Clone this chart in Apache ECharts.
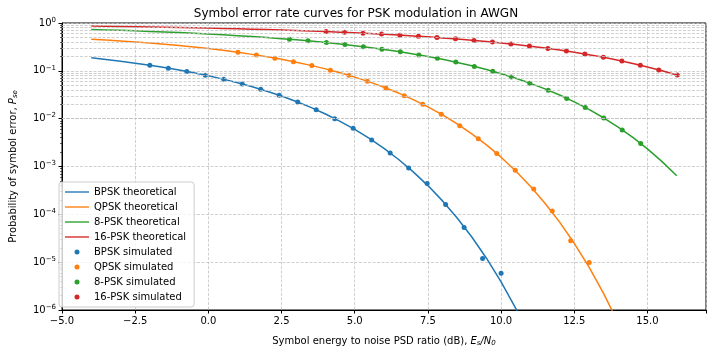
<!DOCTYPE html>
<html>
<head>
<meta charset="utf-8">
<script src="https://cdn.jsdelivr.net/npm/echarts@6.0.0/dist/echarts.min.js"></script>
<style>
  html, body { margin: 0; padding: 0; background: #fff; }
  #chart { width: 712px; height: 352px; }
</style>
</head>
<body>
<div id="chart"></div>
<script>
// Es/N0 grid (dB) for the theoretical curves
var theoX = [-4, -3.5, -3, -2.5, -2, -1.5, -1, -0.5, 0, 0.5, 1, 1.5, 2, 2.5, 3, 3.5, 4, 4.5, 5, 5.5,
    6, 6.5, 7, 7.5, 8, 8.5, 9, 9.5, 10, 10.5, 11, 11.5, 12, 12.5, 13, 13.5, 14, 14.5, 15, 15.5, 16];

// theoretical symbol error rates
var bpskTheo = [0.1867, 0.1723, 0.1584, 0.1445, 0.1307, 0.1170, 0.1038, 0.0909, 0.0786, 0.0671,
    0.0563, 0.0464, 0.0375, 0.0297, 0.0229, 0.01718, 0.0125, 0.00879, 0.00595, 0.00386,
    0.00239, 0.0014, 7.72e-4, 3.99e-4, 1.91e-4, 8.4e-5, 3.36e-5, 1.21e-5, 3.87e-6, 1.08e-6, 2.61e-7];
var qpskTheo = [0.4585, 0.4403, 0.4215, 0.4020, 0.3814, 0.3602, 0.3382, 0.3154, 0.2922, 0.2685,
    0.2447, 0.2208, 0.1974, 0.1741, 0.1516, 0.1301, 0.1098, 0.0910, 0.0740, 0.0587,
    0.0455, 0.0343, 0.0250, 0.01764, 0.01196, 0.00779, 0.00482, 0.00283, 1.566e-3, 8.08e-4,
    3.88e-4, 1.71e-4, 6.86e-5, 2.48e-5, 7.94e-6, 2.22e-6, 5.38e-7];
var psk8Theo = [0.7327, 0.7176, 0.7016, 0.6848, 0.6672, 0.6488, 0.6296, 0.6094, 0.5884, 0.5664,
    0.5438, 0.5202, 0.4956, 0.4706, 0.4446, 0.4180, 0.3910, 0.3636, 0.3358, 0.3084,
    0.2802, 0.2524, 0.2258, 0.1994, 0.1742, 0.1500, 0.1274, 0.1062, 0.0870, 0.0698,
    0.0548, 0.0420, 0.0312, 0.02248, 0.01562, 0.01044, 0.00668, 0.00406, 0.00234, 1.266e-3, 6.38e-4];
var psk16Theo = [0.8618, 0.8537, 0.8452, 0.8360, 0.8264, 0.8164, 0.8058, 0.7944, 0.7826, 0.7702,
    0.7568, 0.7430, 0.7284, 0.7130, 0.6968, 0.6798, 0.6618, 0.6434, 0.6236, 0.6032,
    0.5820, 0.5598, 0.5368, 0.5130, 0.4882, 0.4628, 0.4368, 0.4100, 0.3828, 0.3554,
    0.3276, 0.2998, 0.2720, 0.2446, 0.2178, 0.1918, 0.1668, 0.1430, 0.1208, 0.1002, 0.0818];

// simulated points
var bpskSimX = [-2, -1.368, -0.737, -0.105, 0.526, 1.158, 1.789, 2.421, 3.053, 3.684,
    4.316, 4.947, 5.579, 6.211, 6.842, 7.474, 8.105, 8.737, 9.368, 10];
var bpskSim = [0.1307, 0.1134, 0.0968, 0.0810, 0.0665, 0.0530, 0.0410, 0.0308, 0.0222, 0.01528,
    0.0100, 0.0063, 0.00358, 0.00191, 9.3e-4, 4.4e-4, 1.61e-4, 5.3e-5, 1.2e-5, 5.9e-6];
var qpskSimX = [1.01, 1.642, 2.273, 2.905, 3.536, 4.168, 4.8, 5.431, 6.063, 6.694,
    7.326, 7.957, 8.589, 9.22, 9.852, 10.483, 11.115, 11.747, 12.378, 13.01];
var qpskSim = [0.2442, 0.2140, 0.1842, 0.1556, 0.1285, 0.1031, 0.0804, 0.0606, 0.0439, 0.0303,
    0.01991, 0.01237, 0.00715, 0.00381, 1.87e-3, 8.3e-4, 3.4e-4, 1.18e-4, 2.8e-5, 9.9e-6];
var psk8SimX = [2.77, 3.402, 4.033, 4.665, 5.296, 5.928, 6.559, 7.191, 7.823, 8.454,
    9.086, 9.717, 10.349, 10.98, 11.612, 12.243, 12.875, 13.507, 14.138, 14.77];
var psk8Sim = [0.456, 0.4231, 0.3892, 0.3543, 0.3193, 0.2841, 0.2492, 0.2154, 0.1828, 0.1521,
    0.1235, 0.0979, 0.0745, 0.0553, 0.0394, 0.0265, 0.01712, 0.01038, 0.00582, 0.00302];
var psk16SimX = [4.02, 4.652, 5.283, 5.915, 6.546, 7.178, 7.81, 8.441, 9.073, 9.704,
    10.336, 10.968, 11.599, 12.231, 12.862, 13.494, 14.126, 14.757, 15.389, 16.02];
var psk16Sim = [0.6611, 0.6374, 0.6120, 0.5856, 0.5577, 0.5283, 0.4976, 0.4658, 0.4328, 0.3989,
    0.3644, 0.3293, 0.2943, 0.2593, 0.2251, 0.1921, 0.1605, 0.1315, 0.1044, 0.0815];

var names = ['BPSK', 'QPSK', '8-PSK', '16-PSK'];
var colors = ['#1f77b4', '#ff7f0e', '#2ca02c', '#d62728'];

function zip(xs, ys) {
    var out = [];
    for (var i = 0; i < ys.length; i++) out.push([xs[i], ys[i]]);
    return out;
}

// minor gridlines / ticks of the log axis: 2..9 x 10^k
var minorValues = [];
for (var k = -6; k < 0; k++) {
    for (var m = 2; m <= 9; m++) minorValues.push(m * Math.pow(10, k));
}

var chart = echarts.init(document.getElementById('chart'));
var font = 'DejaVu Sans';
var gridStyle = { color: '#c4c4c4', type: [3, 1.5], width: 0.8 };

var theoData = [bpskTheo, qpskTheo, psk8Theo, psk16Theo];
var simX = [bpskSimX, qpskSimX, psk8SimX, psk16SimX];
var simY = [bpskSim, qpskSim, psk8Sim, psk16Sim];

var series = [{
    type: 'line',
    data: [],
    silent: true,
    z: 1,
    markLine: {
        silent: true,
        symbol: 'none',
        animation: false,
        label: { show: false },
        lineStyle: gridStyle,
        data: minorValues.map(function (v) { return { yAxis: v }; })
    }
}];
var legendData = [];
names.forEach(function (n, i) {
    series.push({
        name: n + ' theoretical',
        type: 'line',
        data: zip(theoX, theoData[i]),
        symbol: 'none',
        z: 3,
        lineStyle: { color: colors[i], width: 1.5 },
        itemStyle: { color: colors[i] }
    });
    legendData.push({
        name: n + ' theoretical',
        icon: 'path://M0,0H24V1.6H0Z',
        itemStyle: { color: colors[i], borderWidth: 0, opacity: 0.85 }
    });
});
names.forEach(function (n, i) {
    series.push({
        name: n + ' simulated',
        type: 'scatter',
        data: zip(simX[i], simY[i]),
        symbolSize: 5,
        z: 4,
        itemStyle: { color: colors[i], opacity: 1 }
    });
    legendData.push({ name: n + ' simulated', icon: 'circle' });
});

var option = {
    animation: false,
    textStyle: { fontFamily: font },
    title: {
        text: 'Symbol error rate curves for PSK modulation in AWGN',
        left: 'center',
        top: 3,
        textStyle: { fontFamily: font, fontSize: 12, fontWeight: 'normal', color: '#000' }
    },
    grid: {
        left: 57, right: 6, top: 23, bottom: 42,
        show: true, borderColor: '#000', borderWidth: 1, backgroundColor: 'transparent'
    },
    legend: {
        orient: 'vertical',
        left: 59, top: 182,
        padding: [4, 8, 4, 6],
        itemWidth: 24,
        itemHeight: 5,
        itemGap: 3,
        backgroundColor: 'rgba(255,255,255,0.8)',
        borderColor: '#cccccc',
        borderWidth: 1,
        borderRadius: 3,
        textStyle: { fontFamily: font, fontSize: 10, color: '#000', lineHeight: 12 },
        data: legendData
    },
    xAxis: {
        type: 'value',
        min: -5, max: 17, interval: 2.5,
        name: 'Symbol energy to noise PSD ratio (dB), {i|E}{sub|s}{i|/N}{sub|0}',
        nameLocation: 'middle',
        nameGap: 25,
        nameTextStyle: {
            fontFamily: font, fontSize: 10, color: '#000',
            rich: {
                i: { fontFamily: font, fontSize: 10, fontStyle: 'italic', color: '#000' },
                sub: { fontFamily: font, fontSize: 7, fontStyle: 'italic', color: '#000', padding: [5, 0, 0, 0] }
            }
        },
        axisLine: { onZero: false, lineStyle: { color: '#000', width: 1 } },
        axisTick: { show: true, length: 3.5, lineStyle: { color: '#000' } },
        axisLabel: {
            fontFamily: font, fontSize: 10, color: '#000', margin: 6,
            formatter: function (v) {
                if (v > 15.01) return '';
                return v.toFixed(1).replace('-', '\u2212');
            }
        },
        splitLine: { show: true, lineStyle: gridStyle }
    },
    yAxis: [{
        type: 'log',
        logBase: 10,
        min: 1e-6, max: 1,
        splitNumber: 6,
        name: 'Probability of symbol error, {i|P}{sub|se}',
        nameLocation: 'middle',
        nameRotate: 90,
        nameGap: 43,
        nameTextStyle: {
            fontFamily: font, fontSize: 10, color: '#000',
            rich: {
                i: { fontFamily: font, fontSize: 10, fontStyle: 'italic', color: '#000' },
                sub: { fontFamily: font, fontSize: 7, fontStyle: 'italic', color: '#000', padding: [5, 0, 0, 0] }
            }
        },
        axisLine: { show: true, onZero: false, lineStyle: { color: '#000', width: 1 } },
        axisTick: { show: true, length: 3.5, lineStyle: { color: '#000' } },
        axisLabel: {
            fontFamily: font, fontSize: 10, color: '#000', margin: 6,
            formatter: function (v) {
                var e = Math.round(Math.log10(v));
                return '10{sup|' + (e < 0 ? '\u2212' + (-e) : e) + '}';
            },
            rich: {
                sup: { fontFamily: font, fontSize: 7, color: '#000', padding: [0, 0, 6, 0] }
            }
        },
        splitLine: { show: true, lineStyle: gridStyle }
    }, {
        // carries only the minor ticks
        type: 'log',
        logBase: 10,
        min: 1e-6, max: 1,
        position: 'left',
        axisLine: { show: false, onZero: false },
        axisLabel: { show: false },
        splitLine: { show: false },
        axisTick: {
            show: true, length: 2, customValues: minorValues,
            lineStyle: { color: '#000', width: 0.6 }
        }
    }],
    series: series
};

chart.setOption(option);
</script>
</body>
</html>
